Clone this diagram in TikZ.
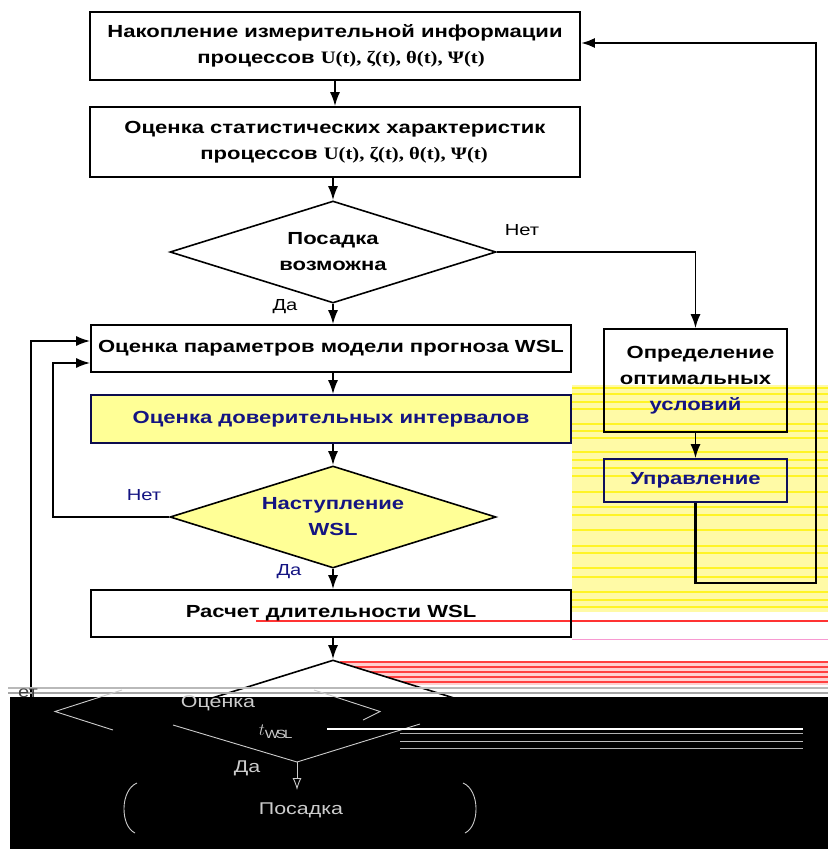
\documentclass[tikz,border=0pt]{standalone}
\usepackage{fontspec}
\setmainfont{Liberation Sans}[FakeStretch=1.26]
\newfontfamily\serifb{Liberation Serif}[FakeStretch=1.18]
\usetikzlibrary{arrows.meta,shapes.geometric}
\definecolor{navy}{RGB}{20,20,130}
\definecolor{lyel}{RGB}{255,255,150}
\newcommand{\procs}{{\serifb\bfseries U(t), ζ(t), θ(t), Ψ(t)}}
\begin{document}
\begin{tikzpicture}[x=1pt,y=-1pt,
  font=\fontsize{17.5}{26}\selectfont\bfseries,
  box/.style={draw, line width=1.6pt, inner sep=0pt, align=center},
  dia/.style={draw, shape=diamond, line width=1.6pt, inner sep=0pt, align=center,
    minimum width=326pt, minimum height=102pt, shape aspect=3.2},
  arr/.style={line width=1.8pt, -{Latex[length=14pt,width=10pt]}},
  lbl/.style={font=\fontsize{16}{18}\selectfont\mdseries},
  ghost/.style={draw=white!80!black, line width=0.9pt},
  ghosttext/.style={text=white!80!black, font=\fontsize{17}{20}\selectfont\mdseries}]
\useasboundingbox (0,0) rectangle (828,849);
\fill[white] (0,0) rectangle (828,849);
% yellow stripe artefacts
\fill[yellow!35] (572,385) rectangle (828,612);
\foreach \yy in {388,394,402,409,424,431,438,452,460,468,476,492,507,515,530,546,553,568,577,592,600,607}
  \draw[yellow!85, line width=2.2pt] (572,\yy) -- (828,\yy);
% red stripe artefacts
\fill[red!18] (340,662) rectangle (828,685);
\foreach \yy in {662,667,672,677,682}
  \draw[red!75, line width=1.2pt] (340,\yy) -- (828,\yy);
\draw[red!80, line width=1.4pt] (256,621) -- (828,621);
\draw[magenta!40, line width=1pt] (572,639) -- (828,639);

% main nodes
\node[box, minimum width=490pt, minimum height=68pt] (b1) at (335,46)
  {Накопление измерительной информации\\\hspace*{12pt}процессов \procs};
\node[box, minimum width=490pt, minimum height=70pt] (b2) at (335,142)
  {Оценка статистических характеристик\\\hspace*{18pt}процессов \procs};
\node[dia] (d1) at (333,252) {Посадка\\возможна};
\node[box, minimum width=480pt, minimum height=47pt] (b5) at (331,348.5)
  {Оценка параметров модели прогноза WSL};
\node[box, draw=navy!60!black, fill=lyel, text=navy, minimum width=480pt, minimum height=48pt] (b6) at (331,419)
  {Оценка доверительных интервалов};
\node[dia, fill=lyel, text=navy] (d2) at (333,517) {Наступление\\WSL};
\node[box, minimum width=480pt, minimum height=47pt] (b7) at (331,613.5)
  {Расчет длительности WSL};
\node[box, minimum width=183pt, minimum height=103pt] (b3) at (695.5,380.5)
  {\hspace*{10pt}Определение\\оптимальных\\\textcolor{navy}{условий}};
\node[box, draw=navy!70!black, text=navy, minimum width=183pt, minimum height=43pt] (b4) at (695.5,480.5)
  {Управление};
\node[dia, fill=white] (d3) at (333,711) {};

% labels
\node[lbl] (n1) at (522,230) {Нет};
\node[lbl] (y1) at (285,307) {Да};
\node[lbl, text=navy] (n2) at (144,495) {Нет};
\node[lbl, text=navy] (y2) at (289,572) {Да};

% connectors
\coordinate (rt) at (816,43);
\coordinate (rb) at (816,583);
\coordinate (il) at (53,363);
\coordinate (ol) at (31,341);
\draw[arr] (b1.south) -- (b2.north);
\draw[arr] (b2.south -| d1.north) -- (d1.north);
\draw[arr] (d1.south) -- (d1.south |- b5.north);
\draw[arr] (b5.south -| d2.north) -- (d2.north |- b6.north);
\draw[arr] (b6.south -| d2.north) -- (d2.north);
\draw[arr] (d2.south) -- (d2.south |- b7.north);
\draw[arr] (b7.south -| d3.north) -- (d3.north);
\draw[arr] (d1.east) -| (b3.north);
\draw[arr] (b3.south) -- (b4.north);
\draw[arr, line width=2.6pt] (b4.south) |- (rb) |- (b1.east |- rt);
\draw[arr] (d2.west) -| (il) -- (b5.west |- il);
\draw[arr] (d3.west) -| (ol) -- (b5.west |- ol);

% corrupted lower band
\draw[gray!55, line width=1.2pt] (8,688) -- (828,688);
\draw[gray!70, line width=1.2pt] (8,693) -- (828,693);
\fill[black] (10,697) rectangle (828,849);
\begin{scope}
\clip (19,680) rectangle (60,705);
\node[lbl, text=black!75, anchor=east, inner sep=0pt] (n3) at (38,692) {Нет};
\end{scope}
% ghost of the last decision
\draw[ghost] (122,690) -- (55,711.5) -- (113,730);
\draw[ghost] (314,690) -- (380,711.5) -- (363,720);
\draw[ghost] (173,725) -- (297,762) -- (420,724);
\node[ghosttext] (g1) at (218,703) {Оценка};
\node[ghosttext] (g2) at (275,732) {$t_{\mathrm{WSL}}$};
\node[ghosttext] (g3) at (247,768) {Да};
\coordinate (gt) at (297,762);
\coordinate (gb) at (297,790);
\draw[ghost, -{Latex[open,length=12pt,width=9pt]}] (gt) -- (gb);
\node[ghosttext] (g4) at (301,810) {Посадка};
\draw[ghost] (137,783) .. controls (120,790) and (120,826) .. (135,833);
\draw[ghost] (463,783) .. controls (480,790) and (480,826) .. (465,833);
\draw[white, line width=1.5pt] (327,729) -- (803,729);
\draw[gray!60, line width=1pt] (400,733) -- (803,733);
\draw[gray!50, line width=1pt] (400,741) -- (803,741);
\draw[gray!60, line width=1pt] (400,748) -- (803,748);
\end{tikzpicture}
\end{document}
